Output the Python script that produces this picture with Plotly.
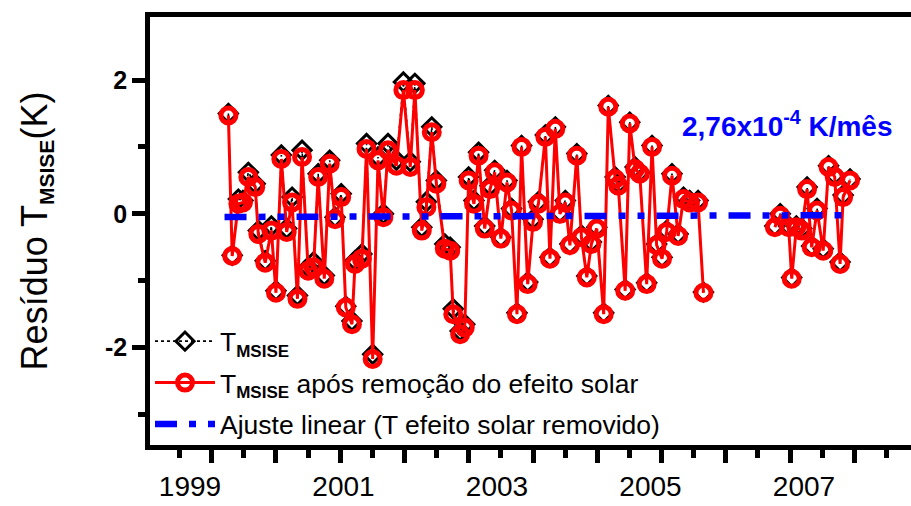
import plotly.graph_objects as go

# Decimal-year positions of the monthly residuals (None marks the data gap)
years = [
    1999.50, 1999.55, 1999.63, 1999.69, 1999.76, 1999.85, 1999.89, 1999.98,
    2000.06, 2000.12, 2000.19, 2000.26, 2000.33, 2000.40, 2000.46, 2000.54,
    2000.61, 2000.67, 2000.75, 2000.82, 2000.89, 2000.97, 2001.03, 2001.11,
    2001.15, 2001.24, 2001.30, 2001.38, 2001.45, 2001.52, 2001.58, 2001.69,
    2001.78, 2001.87, 2001.93, 2002.02, 2002.08, 2002.15, 2002.21, 2002.32,
    2002.39, 2002.43, 2002.52, 2002.58, 2002.63, 2002.70, 2002.76, 2002.84,
    2002.91, 2002.97, 2003.05, 2003.13, 2003.19, 2003.26, 2003.32, 2003.40,
    2003.47, 2003.54, 2003.63, 2003.69, 2003.76, 2003.82, 2003.89, 2003.95,
    2004.04, 2004.10, 2004.17, 2004.23, 2004.30, 2004.39, 2004.45, 2004.54,
    2004.58, 2004.67, 2004.73, 2004.80, 2004.86, 2004.95, 2005.02, 2005.08,
    2005.15, 2005.21, 2005.28, 2005.36, 2005.43, 2005.51, 2005.62, 2005.69,
    2006.15,
    2006.62, 2006.69, 2006.80, 2006.84, 2006.90, 2006.97, 2007.04, 2007.10,
    2007.17, 2007.25, 2007.32, 2007.40, 2007.47, 2007.51, 2007.60,
]

# Residual of T_MSISE (K)
t_msise = [
    1.50, -0.62, 0.22, 0.20, 0.62, 0.45, -0.25, -0.70,
    -0.18, -1.15, 0.88, -0.22, 0.25, -1.22, 0.95, -0.80,
    -0.72, 0.60, -0.92, 0.80, -0.05, 0.30, -1.38, -1.60,
    -0.70, -0.60, 1.05, -2.10, 0.85, 0.00, 1.05, 0.80,
    1.97, 0.78, 1.95, -0.20, 0.18, 1.30, 0.50, -0.45,
    -0.50, -1.42, -1.75, -1.65, 0.55, 0.20, 0.92, -0.18,
    0.42, 0.65, -0.35, 0.50, 0.08, -1.48, 1.02, -1.02,
    -0.08, 0.18, 1.18, -0.65, 1.30, 0.02, 0.20, -0.45,
    0.90, -0.32, -0.93, -0.42, -0.20, -1.48, 1.62, 0.55,
    0.45, -1.13, 1.37, 0.70, 0.62, -1.03, 1.02, -0.45,
    -0.65, -0.25, 0.60, -0.30, 0.25, 0.20, 0.20, -1.17,
    None,
    -0.18, 0.00, -0.18, -0.95, -0.18, -0.22, 0.40, -0.48,
    0.08, -0.52, 0.72, 0.58, -0.72, 0.28, 0.52,
]

# Residual of T_MSISE after removing the solar effect (K)
t_sem_solar = [
    1.47, -0.63, 0.15, 0.17, 0.55, 0.40, -0.30, -0.73,
    -0.25, -1.18, 0.82, -0.27, 0.17, -1.27, 0.85, -0.85,
    -0.80, 0.55, -0.97, 0.75, -0.08, 0.25, -1.40, -1.65,
    -0.75, -0.67, 0.97, -2.17, 0.80, -0.05, 0.95, 0.72,
    1.85, 0.70, 1.85, -0.25, 0.10, 1.22, 0.45, -0.52,
    -0.55, -1.50, -1.80, -1.70, 0.50, 0.15, 0.87, -0.22,
    0.37, 0.62, -0.37, 0.47, 0.05, -1.50, 1.00, -1.05,
    -0.12, 0.15, 1.15, -0.67, 1.27, 0.00, 0.17, -0.47,
    0.87, -0.35, -0.95, -0.45, -0.22, -1.50, 1.60, 0.52,
    0.42, -1.15, 1.35, 0.67, 0.60, -1.05, 1.00, -0.47,
    -0.67, -0.27, 0.57, -0.33, 0.22, 0.17, 0.17, -1.18,
    None,
    -0.20, -0.03, -0.20, -0.97, -0.20, -0.25, 0.37, -0.50,
    0.05, -0.55, 0.70, 0.55, -0.75, 0.25, 0.50,
]

# Linear fit of the solar-removed series: slope in K per month
fit_slope = 2.76e-4
fit_intercept = -0.047
fit_years = [1999.45, 2007.56]

year_ticks = [1999, 2001, 2003, 2005, 2007]
year_labels = ["1999", "2001", "2003", "2005", "2007"]
y_ticks = [-2, 0, 2]
y_labels = ["-2", "0", "2"]

fit_values = [fit_intercept + fit_slope * 12 * (x - fit_years[0]) for x in fit_years]

FONT = "Liberation Sans, Arial, sans-serif"
X_RANGE = [1998.4788, 2008.3941]
Y_RANGE = [-3.455, 2.942]
SUB = "<sub><b><span style='font-size:{}px'>MSISE</span></b></sub>"

fig = go.Figure()

fig.add_trace(go.Scatter(
    x=years, y=t_msise, mode="lines+markers",
    name="T" + SUB.format(17),
    legendgroup="a",
    line=dict(color="black", width=1.6, dash="dot"),
    marker=dict(symbol="diamond-open", size=14, color="black",
                line=dict(color="black", width=3)),
    connectgaps=False,
))

fig.add_trace(go.Scatter(
    x=years, y=t_sem_solar, mode="lines+markers",
    name="T" + SUB.format(17) + " após remoção do efeito solar",
    legendgroup="b",
    line=dict(color="#ff0000", width=3),
    marker=dict(symbol="circle-open", size=15, color="#ff0000",
                line=dict(color="#ff0000", width=5)),
    connectgaps=False,
))

fig.add_trace(go.Scatter(
    x=fit_years, y=fit_values, mode="lines",
    name="Ajuste linear (T efeito solar removido)",
    legendgroup="c",
    xaxis="x2",
    line=dict(color="#0000ff", width=6.5, dash="22px,12px,7px,12px,7px,12px"),
))

fig.add_annotation(
    x=2006.78, y=1.35, xref="x", yref="y",
    text="<b>2,76x10<sup>-4</sup> K/mês</b>",
    showarrow=False, font=dict(family=FONT, size=28, color="#0000ff"),
)

fig.update_layout(
    width=911, height=506,
    margin=dict(l=150, r=0, t=17, b=61),
    paper_bgcolor="white", plot_bgcolor="white",
    font=dict(family=FONT, color="black"),
    showlegend=True,
    legend=dict(
        x=0.0, y=-0.008, xanchor="left", yanchor="bottom",
        bgcolor="rgba(0,0,0,0)", font=dict(family=FONT, size=26.5, color="black"),
        tracegroupgap=4, itemwidth=60,
    ),
    xaxis=dict(
        range=X_RANGE, showgrid=False, zeroline=False,
        showline=True, linewidth=4.7, linecolor="black", mirror=True,
        ticks="outside", tick0=1999.2827, dtick=0.83726,
        ticklen=13, tickwidth=4.5, tickcolor="black",
        showticklabels=False,
        minor=dict(ticks="outside", dtick=0.41863, tick0=1999.2827,
                   ticklen=8, tickwidth=4.5, tickcolor="black", showgrid=False),
    ),
    xaxis2=dict(
        range=X_RANGE, overlaying="x", anchor="y", side="bottom",
        showgrid=False, zeroline=False, showline=False, ticks="",
        tickmode="array", tickvals=year_ticks, ticktext=year_labels,
        tickfont=dict(family=FONT, size=28, color="black"),
        ticklabelstandoff=22,
    ),
    yaxis=dict(
        range=Y_RANGE, showgrid=False, zeroline=False,
        showline=True, linewidth=4.7, linecolor="black",
        ticks="outside", tickmode="array", tickvals=y_ticks, ticktext=y_labels,
        ticklen=13, tickwidth=4.5, tickcolor="black",
        tickfont=dict(family=FONT, size=25, color="black", weight="bold"),
        minor=dict(ticks="outside", dtick=1, tick0=0, ticklen=7,
                   tickwidth=4.5, tickcolor="black", showgrid=False),
        title=dict(text="Resíduo T" + SUB.format(21) + "(K)",
                   font=dict(family=FONT, size=36, color="black"), standoff=48),
    ),
)

fig.write_html("out.html")
